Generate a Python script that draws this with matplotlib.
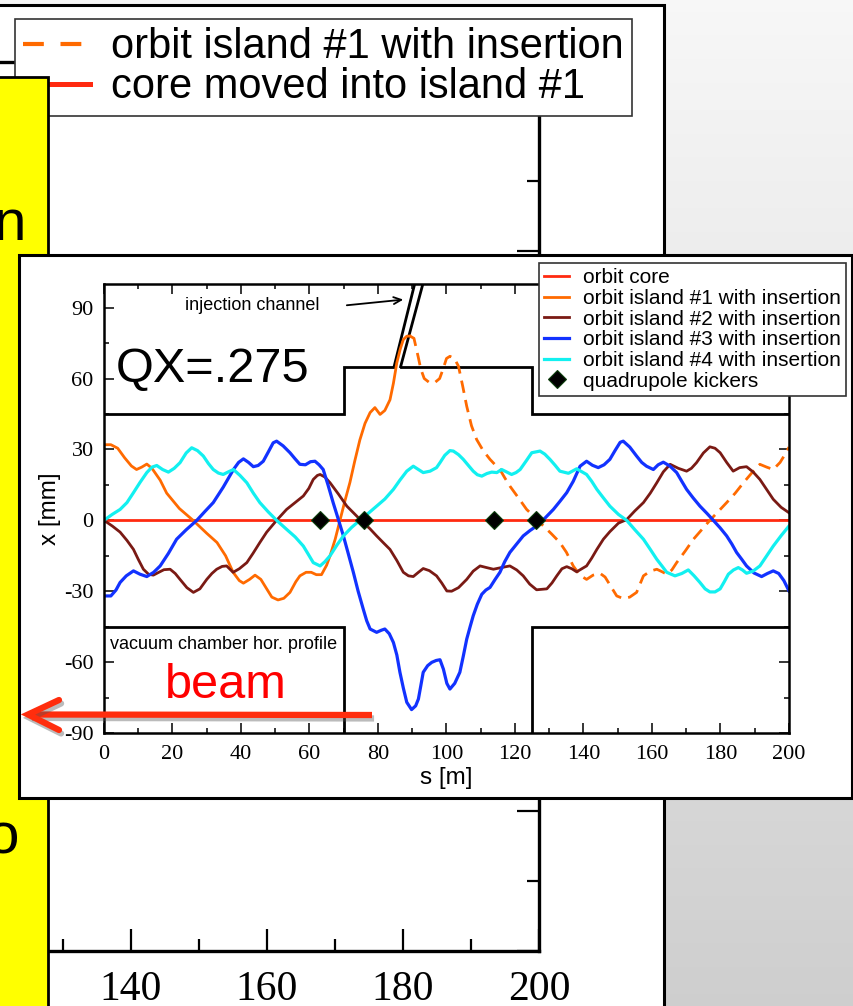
import matplotlib
matplotlib.use("Agg")
import numpy as np
import matplotlib.pyplot as plt
from matplotlib.patches import Rectangle
from matplotlib.lines import Line2D
from matplotlib.ticker import MultipleLocator
import matplotlib.patheffects as pe

plt.rcParams['font.family'] = ['Liberation Sans', 'DejaVu Sans']
plt.rcParams['axes.unicode_minus'] = False
SERIF = 'Liberation Serif'

W, H = 854, 1006

# --- orbit data, s [m] and x [mm] ---
core_s = [0, 200]
core_x = [0, 0]

isl1_s = [0, 2, 4, 6, 8, 9.5, 11, 12.5, 14, 16.4, 18.3, 22, 26, 30, 33, 35.5, 37.7,
          39.5, 40.7, 42.5, 44.1, 45.8, 47.5, 49, 50.8, 52.5, 54.3, 56, 57.2, 59,
          60.5, 62, 63.5, 65, 66, 67.5, 68.9, 70.3, 71.8, 73.2, 74.7, 76.2, 77.7,
          79.1, 80.6, 82, 83.5, 84.5, 85.5, 86.5, 87.4, 88.4, 89.3]
isl1_x = [32, 32, 30.5, 26.5, 23, 21.5, 22.5, 23.8, 22, 17, 11.5, 5, 0, -5.5, -9.4,
          -15, -22, -25.5, -26.6, -25, -23.2, -25, -29, -32.5, -33.7, -33, -30.5,
          -26, -23.5, -22, -22, -23, -23, -19, -15, -8, 0, 8, 16, 25, 34, 41, 45.6,
          47.7, 44.8, 46.5, 51, 58, 66.7, 72.5, 76.5, 77.9, 78]

isl1_dash_s = [89.3, 90.5, 91.7, 92.5, 93.5, 95, 96.5, 98, 99, 100, 101, 102.3, 103.5,
               104.7, 105.9, 107.3, 108.8, 110.7, 112.7, 114.2, 115.6, 117, 118.5,
               121, 123.4, 126, 128.3, 130.7, 133.1, 135, 137, 139, 140.9, 142.8,
               144.8, 146.3, 147.7, 149.7, 151.6, 153.5, 155.5, 157.5, 159.5, 161.4,
               163, 164.3, 165.8, 167.2, 169.7, 172.1, 174.5, 176.9, 179.4, 181.8,
               184.3, 186.7, 189.1, 191.5, 193.5, 195.4, 197.4, 199.3, 200]
isl1_dash_x = [78, 77, 69.4, 64, 60, 58.3, 58.2, 60, 64, 68.5, 69.4, 68.5, 65.2, 57,
               48.3, 40, 34.2, 29.5, 25.8, 23.5, 21.5, 18, 14.5, 9.5, 4.6, 1, -2.4,
               -5.8, -9.4, -13.5, -19.3, -23.3, -25, -23.2, -22.4, -24, -27.3, -32,
               -33.1, -32.5, -30.5, -23.5, -21.5, -20.7, -21.8, -22.8, -21, -17.9,
               -13, -8, -4, 0, 3.8, 7.5, 11.5, 15.9, 20, 23.7, 22.5, 21.5, 24.5, 29, 31]

isl2_s = [0, 2.5, 4.7, 6.7, 8.6, 10, 11.5, 13, 14.4, 16, 17.5, 19.3, 20.8, 22.2, 24.2,
          26.1, 28, 30, 31.5, 32.9, 34.5, 35.8, 37.7, 39.5, 41.7, 43.5, 45.5, 47.5,
          50.4, 53.3, 55.8, 58.2, 59.8, 61.1, 62.3, 63.1, 64.5, 66, 68.5, 70.9, 73.3,
          75.7, 77.6, 79.6, 81.5, 83.5, 85.5, 87.4, 88.9, 90.3, 91.8, 93.2, 95, 97.1,
          98.6, 100.1, 101.5, 103.5, 105.9, 107.8, 109.8, 111.7, 113.7, 116, 118.5,
          120.5, 122.4, 124.3, 126.3, 129.3, 130.8, 132.2, 133.7, 135.1, 136.6, 138,
          139.5, 140.9, 142.4, 143.9, 145.8, 147.7, 150.2, 152.6, 155, 157.5, 159.5,
          161.4, 163.3, 165.3, 167.7, 170.1, 171.5, 173, 175, 176.9, 178.4, 179.9,
          181.8, 183.7, 185.6, 187.6, 189.5, 191.5, 193.5, 195.4, 197.7, 200]
isl2_x = [0, -2.5, -5, -8.5, -12.3, -16.5, -20.7, -22.8, -23.2, -22, -20.9, -20.7,
          -22.5, -25, -28.5, -30.5, -29, -25, -22.5, -20.7, -19.5, -19.3, -22, -20.5,
          -17.9, -14, -9.4, -5, 0, 4.6, 7.5, 10.3, 13.5, 17.3, 19, 19.4, 18.3, 15.9,
          11, 6, 2.5, -1, -3.5, -6.6, -9.4, -12.3, -17, -22, -23.5, -23.8, -22,
          -20.4, -21.3, -23.5, -26.5, -29.9, -30, -28.5, -25, -21.5, -19.3, -20,
          -20.7, -20, -19.3, -21, -23.5, -27, -29.4, -29, -26.5, -23.5, -20.5, -19.6,
          -20.5, -21.8, -20.5, -19.3, -16, -12.3, -8, -4.8, -1.2, 0.3, 4, 7.5, 11.5,
          15.9, 20.5, 23.7, 22, 20.8, 22, 24.4, 28.5, 31.1, 30.5, 28.6, 24.5, 20.8,
          22.3, 22.7, 20.5, 17.3, 13, 8.9, 5.5, 3.2]

isl3_s = [0, 2, 3.5, 4.7, 6.5, 8.6, 10.5, 12.5, 14.5, 16.4, 18.8, 21.2, 24, 27.1,
          29.5, 31.9, 34.8, 37.8, 39.3, 40.7, 42.2, 43.6, 45, 46.5, 48, 49.4, 50.4,
          52.3, 54.3, 55.8, 57.2, 58.8, 60.3, 61.6, 62.8, 64, 65.4, 66.9, 68.4, 69.9,
          71.3, 72.8, 74.2, 75.7, 76.7, 77.7, 79.6, 81, 82, 83.3, 84.5, 85.5, 86.4,
          87.4, 88.4, 89.8, 91, 91.8, 92.5, 93.2, 94.5, 95.7, 97, 98.1, 99.1, 100.1,
          101, 102.4, 103.9, 104.9, 105.9, 106.9, 107.8, 109, 110.3, 111.5, 112.7,
          114.2, 115.6, 117, 118.5, 120.5, 122.4, 124.4, 126.3, 128.8, 131.2, 133.1,
          135.1, 137, 139, 140.9, 142.6, 144.3, 146, 147.7, 149.2, 150.7, 151.6,
          153.5, 155.5, 157, 158.4, 160.4, 161.8, 163.3, 165.2, 167.2, 168.7, 170.1,
          172, 174, 176, 177.9, 179.9, 181.8, 183.3, 184.7, 186.2, 187.6, 189.8, 192,
          193.7, 195.4, 197, 198.5, 200]
isl3_x = [-32, -32, -29.5, -26.3, -23.5, -21.4, -22.8, -23.8, -22, -19.3, -14, -8,
          -4, 0, 3.8, 7.5, 14, 21.5, 24.5, 26, 24.5, 22.7, 23.2, 25, 29, 32.8, 33.5,
          31.5, 28.6, 26, 23.7, 23.5, 24.8, 25, 23.5, 21.5, 15, 7.5, 0.5, -6.6, -14,
          -22, -30, -37.6, -42.5, -46, -47.4, -46.5, -46, -48, -51.7, -57, -64.3,
          -71, -77, -80.1, -78.5, -75.6, -70, -64.3, -61.5, -60.1, -59.3, -59, -63,
          -69, -71.4, -69, -64.3, -57.5, -50.3, -45, -40.4, -35.5, -31.3, -29.5,
          -28.4, -25, -22, -17.5, -13.6, -10, -6.6, -4.3, -2.4, 1, 4.6, 8, 11.7,
          16.5, 22.9, 25, 23.3, 22.3, 23.5, 25.8, 29.5, 33, 33.5, 31, 27.2, 24.5,
          22.9, 21.5, 23.5, 24.6, 23, 20.2, 16.5, 13.1, 9.5, 6, 3, 0, -3.2, -6.6,
          -10, -13.6, -16.5, -19.3, -22.3, -23.8, -22.5, -21.4, -22.5, -25.5, -29.9]

isl4_s = [0, 2.4, 4.7, 6.7, 8.6, 10.5, 12.5, 14, 15.4, 17.1, 18.8, 20.5, 22.2, 24,
          25.6, 27.3, 29, 30.5, 31.9, 33.4, 34.8, 36.3, 37.8, 39.7, 41.7, 43.6, 45.5,
          48, 50.4, 53.3, 55.8, 58.2, 59.7, 61.1, 63.1, 64.5, 66, 68, 69.9, 72.3,
          74.7, 77.2, 79.6, 82, 84.5, 86.4, 88.4, 90.3, 91.8, 93.2, 95.2, 97.1, 98.1,
          99.5, 101, 102, 103.5, 104.9, 106.4, 107.8, 109, 110.3, 111.8, 113.2, 114.7,
          116.1, 117.5, 119, 120.3, 121.5, 123.2, 124.9, 127.3, 128.7, 130.2, 131.7,
          133.1, 135.6, 138, 140.9, 142.4, 143.9, 145.8, 147.7, 150.2, 152.6, 155,
          157.5, 159.5, 161.4, 163, 164.3, 166.7, 168.7, 170.6, 172.3, 174, 175.5,
          176.9, 178.4, 179.9, 181.1, 182.3, 183.8, 185.2, 186.4, 187.6, 189.5,
          191.5, 193.5, 195.4, 197.7, 200]
isl4_x = [0, 2.5, 4.6, 7.5, 11.7, 16, 20.2, 22.5, 23.2, 21.5, 20.4, 22, 24.4, 28.5,
          30.7, 29.5, 27.2, 24, 21.5, 20, 19.4, 20.5, 21.5, 19, 15.9, 11.5, 7.5, 3.5,
          0, -3.8, -7, -10.9, -14.5, -17.9, -19.3, -17.5, -15, -10.5, -6.6, -3, 0, 3,
          6, 9, 13.1, 17, 20.8, 22.9, 21.5, 20.2, 20.8, 22.3, 24.4, 27.5, 29.5, 29.3,
          27.8, 25.8, 23.2, 20.8, 19.3, 18.7, 19.8, 20.4, 20.2, 21.5, 20.5, 19.4,
          20.2, 21.5, 25, 28.6, 29.3, 28, 25.8, 23.3, 20.8, 19.9, 21.8, 19.4, 16.5,
          13.1, 9.5, 6, 2.5, 0, -4, -8, -12.3, -16.5, -19.5, -22, -23.5, -22.5, -21,
          -23.5, -26.3, -29, -30.3, -30.3, -29, -26, -22.8, -21, -20, -21, -22.4,
          -21.5, -19.3, -15, -10.9, -6.5, -2.4]

kick_s = [63, 76, 114, 126]
kick_x = [0, 0, 0, 0]

# vacuum chamber horizontal profile and injection channel walls
wall_up1_s, wall_up1_x = [0, 70, 70, 84.7], [45, 45, 65, 65]
wall_up2_s, wall_up2_x = [86.6, 125, 125, 200], [65, 65, 45, 45]
wall_lo1_s, wall_lo1_x = [0, 70, 70], [-45, -45, -90]
wall_lo2_s, wall_lo2_x = [125, 125, 200], [-90, -45, -45]
chan_l_s, chan_l_x = [84.7, 90.7], [65, 100]
chan_r_s, chan_r_x = [86.6, 93.1], [65, 100]

C_CORE = '#ff2a10'
C_ISL1 = '#ff6a00'
C_ISL2 = '#7a1a14'
C_ISL3 = '#1232ff'
C_ISL4 = '#12f0f0'


def fx(px):
    return px / W


def fy(py):
    return 1 - py / H


fig = plt.figure(figsize=(W / 100, H / 100), dpi=100)

# slide background
bg = fig.add_axes([0, 0, 1, 1], zorder=-2)
grad = np.linspace(0.97, 0.81, 256)[:, None] * np.ones((1, 3))
bg.imshow(grad[:, None, :], extent=[0, 1, 0, 1], aspect='auto')
bg.set_axis_off()

# white frame of the plot underneath
fig.add_artist(Rectangle((fx(-10), fy(1020)), (664 + 10) / W, (1020 - 5) / H,
                         transform=fig.transFigure, facecolor='white',
                         edgecolor='black', lw=2.2, zorder=0))

# plot underneath (mostly covered)
back = fig.add_axes([fx(-20), fy(951), (539 + 20) / W, (951 - 62) / H], zorder=1)
back.set_facecolor('none')
back.set_xlim(117.8, 200)
back.set_ylim(-20, 107)
back.xaxis.set_major_locator(MultipleLocator(20))
back.xaxis.set_minor_locator(MultipleLocator(10))
back.yaxis.set_major_locator(MultipleLocator(20))
back.yaxis.set_minor_locator(MultipleLocator(10))
back.tick_params(which='both', direction='in', top=True, right=True, width=1.6,
                 labelleft=False, labelsize=30, labelfontfamily=SERIF, pad=14)
back.tick_params(which='major', length=15.8)
back.tick_params(which='minor', length=8.6)
for sp in back.spines.values():
    sp.set_linewidth(2.4)
back.spines['left'].set_visible(False)
back_handles = [Line2D([], [], color=C_ISL1, lw=3, ls=(0, (5, 4))),
                Line2D([], [], color=C_CORE, lw=3.6)]
leg_b = back.legend(back_handles, ['orbit island #1 with insertion',
                                   'core moved into island #1'],
                    loc='upper left', bbox_to_anchor=(fx(15), fy(19)),
                    bbox_transform=fig.transFigure, borderaxespad=0,
                    fontsize=30, labelspacing=0.0, handlelength=1.6,
                    handletextpad=0.5, borderpad=0.2, fancybox=False,
                    framealpha=1, edgecolor='#333333')
leg_b.get_frame().set_linewidth(1.2)

# yellow text box on the left
fig.add_artist(Rectangle((fx(-10), fy(1020)), (48 + 10) / W, (1020 - 77) / H,
                         transform=fig.transFigure, facecolor='#ffff00',
                         edgecolor='black', lw=2.0, zorder=2))
fig.text(fx(26), fy(240), 'n', ha='right', va='baseline', fontsize=42, zorder=2.1)
fig.text(fx(19), fy(853), 'o', ha='right', va='baseline', fontsize=42, zorder=2.1)

# inset frame
fig.add_artist(Rectangle((fx(19), fy(798)), (852 - 19) / W, (798 - 255) / H,
                         transform=fig.transFigure, facecolor='white',
                         edgecolor='black', lw=2.2, zorder=3))

ax = fig.add_axes([fx(104), fy(733), 685 / W, 449 / H], zorder=4)
ax.set_facecolor('none')
ax.set_xlim(0, 200)
ax.set_ylim(-90, 100)

wall = dict(color='black', lw=2.0, solid_joinstyle='miter')
ax.plot(wall_up1_s, wall_up1_x, **wall)
ax.plot(wall_up2_s, wall_up2_x, **wall)
ax.plot(wall_lo1_s, wall_lo1_x, **wall)
ax.plot(wall_lo2_s, wall_lo2_x, **wall)
ax.plot(chan_l_s, chan_l_x, color='black', lw=2.0)
ax.plot(chan_r_s, chan_r_x, color='black', lw=2.0)

lw = 2.0
ax.plot(core_s, core_x, color=C_CORE, lw=lw, label='orbit core')
ax.plot(isl1_s, isl1_x, color=C_ISL1, lw=lw, label='orbit island #1 with insertion')
ax.plot(isl1_dash_s, isl1_dash_x, color=C_ISL1, lw=lw, ls=(0, (4.5, 2.6)))
ax.plot(isl2_s, isl2_x, color=C_ISL2, lw=lw, label='orbit island #2 with insertion')
ax.plot(isl3_s, isl3_x, color=C_ISL3, lw=lw + 0.3, label='orbit island #3 with insertion')
ax.plot(isl4_s, isl4_x, color=C_ISL4, lw=lw + 0.3, label='orbit island #4 with insertion')
ax.plot(kick_s, kick_x, ls='none', marker='D', ms=9.5, mfc='black', mec='#0b3d0b',
        mew=0.8, label='quadrupole kickers', zorder=5)

ax.xaxis.set_major_locator(MultipleLocator(20))
ax.xaxis.set_minor_locator(MultipleLocator(10))
ax.yaxis.set_major_locator(MultipleLocator(30))
ax.yaxis.set_minor_locator(MultipleLocator(15))
ax.set_yticks(np.arange(-90, 91, 30))
ax.tick_params(which='both', direction='in', top=True, right=True, width=1.1,
               labelsize=16, labelfontfamily=SERIF)
ax.tick_params(which='major', length=7.2)
ax.tick_params(which='minor', length=3.6)
ax.tick_params(axis='x', pad=8.5)
ax.tick_params(axis='y', pad=7.5)
for sp in ax.spines.values():
    sp.set_linewidth(1.8)
ax.set_xlabel('s [m]', fontsize=17.5, labelpad=2)
ax.set_ylabel('x [mm]', fontsize=17.5, labelpad=2)

ax.text(3.5, 63.8, 'QX=.275', fontsize=35, ha='left', va='center')
ax.text(43.2, 90.8, 'injection channel', fontsize=13, ha='center', va='center')
ax.annotate('', xy=(87.4, 93.4), xytext=(70.9, 91),
            arrowprops=dict(arrowstyle='->,head_length=0.55,head_width=0.25',
                            lw=1.3, color='black', shrinkA=0, shrinkB=0))
ax.text(1.8, -52.4, 'vacuum chamber hor. profile', fontsize=13,
        ha='left', va='center')

leg = ax.legend(loc='upper right', bbox_to_anchor=(fx(846), fy(263)),
                bbox_transform=fig.transFigure, borderaxespad=0, fontsize=15,
                labelspacing=0.08, handlelength=1.2, handletextpad=0.65,
                borderpad=0.25, fancybox=False, framealpha=1,
                edgecolor='#333333')
leg.get_frame().set_linewidth(1.2)

# beam direction arrow
shadow = [pe.SimpleLineShadow(offset=(1.5, -2.5), shadow_color='#555555', alpha=0.4),
          pe.Normal()]
fig.add_artist(Line2D([fx(372), fx(30)], [fy(715), fy(714.5)],
                      transform=fig.transFigure, color='#ff2d0d', lw=4.5,
                      solid_capstyle='butt', path_effects=shadow, zorder=5))
fig.add_artist(Line2D([fx(59), fx(28), fx(59)], [fy(700), fy(714.5), fy(730)],
                      transform=fig.transFigure, color='#ff2d0d', lw=4.5,
                      solid_capstyle='round', solid_joinstyle='miter',
                      path_effects=shadow, zorder=5))
fig.text(fx(226), fy(685), 'beam', color='#ff0000', fontsize=35,
         ha='center', va='center', zorder=5)

fig.savefig('out.png', dpi=100)
